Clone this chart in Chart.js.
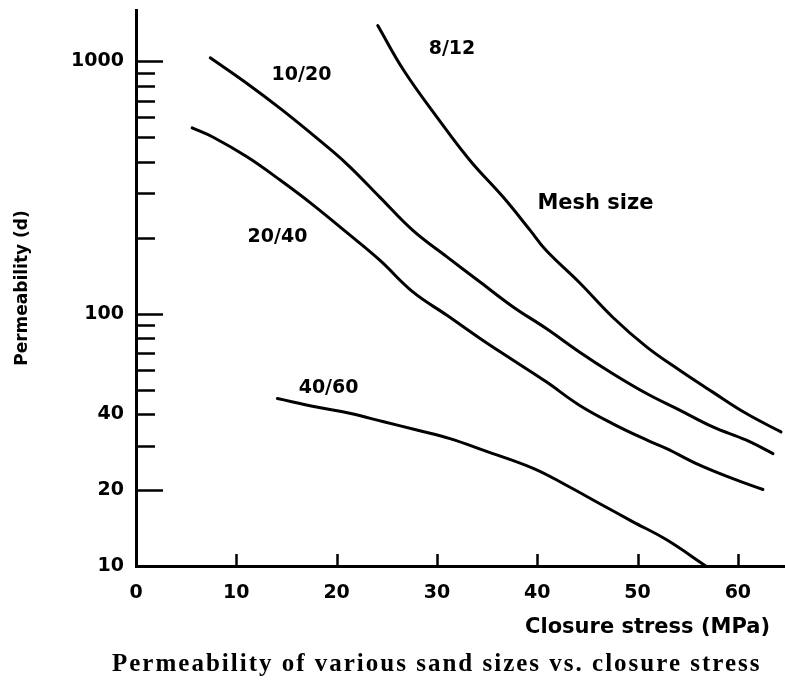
<!DOCTYPE html>
<html>
<head>
<meta charset="utf-8">
<script src="https://cdn.jsdelivr.net/npm/chart.js@4.4.1/dist/chart.umd.min.js"></script>
<style>
  html, body { margin: 0; padding: 0; background: #fff; }
  #wrap { position: relative; width: 785px; height: 680px; }
  #caption {
    position: absolute; left: 112px; top: 647px; height: 32px; line-height: 32px;
    font-family: "Liberation Serif", "Times New Roman", serif; font-weight: bold;
    font-size: 25px; letter-spacing: 2px; color: #000; white-space: nowrap;
  }
</style>
</head>
<body>
<div id="wrap">
  <canvas id="c" width="785" height="680"></canvas>
  <div id="caption">Permeability of various sand sizes vs. closure stress</div>
</div>
<script>
// ---- Data ----
const mesh812X = [24.1, 26.7, 30.0, 33.3, 36.6, 39.3, 40.9, 44.2, 47.5, 50.9, 54.2, 57.5, 60.8, 64.3];
const mesh812Y = [1389, 921, 602, 405, 290, 214, 178, 133, 97.1, 73.9, 59.7, 48.9, 40.3, 34.0];

const mesh1020X = [7.4, 11.1, 14.4, 17.7, 21.0, 24.3, 27.6, 31.0, 34.3, 37.6, 40.9, 44.2, 47.5, 50.9, 54.2, 57.5, 60.8, 63.5];
const mesh1020Y = [1034, 816, 650, 509, 393, 290, 214, 168, 133.6, 106.4, 87.4, 70.6, 58.0, 48.3, 41.5, 35.6, 31.6, 27.9];

const mesh2040X = [5.6, 7.7, 11.1, 14.4, 17.7, 21.0, 24.3, 27.6, 31.0, 34.3, 37.6, 40.9, 44.2, 47.5, 50.9, 52.9, 56.2, 59.5, 62.5];
const mesh2040Y = [546, 501, 418, 338, 269, 210, 163, 122, 98.6, 79.8, 65.4, 53.7, 43.4, 36.7, 31.6, 29.2, 25.1, 22.2, 20.1];

const mesh4060X = [14.1, 18.0, 21.3, 24.7, 28.0, 31.3, 34.6, 39.6, 42.9, 46.2, 49.5, 52.9, 56.8];
const mesh4060Y = [46.1, 42.7, 40.3, 37.3, 34.6, 32.0, 28.8, 24.4, 20.9, 17.7, 15.0, 12.7, 10];

const seriesNames = ['8/12', '10/20', '20/40', '40/60'];

// curve annotation labels (data coordinates)
const labelTexts = ['8/12', '10/20', 'Mesh size', '20/40', '40/60'];
const labelXs = [31.5, 16.5, 45.8, 14.1, 19.2];
const labelYs = [1116, 880, 274, 201, 50.9];

// axis ticks
const xTickValues = [0, 10, 20, 30, 40, 50, 60];
const yTickValues = [10, 20, 30, 40, 50, 60, 70, 80, 90, 100, 200, 300, 400, 500, 600, 700, 800, 900, 1000];
const yLabelValues = [10, 20, 40, 100, 1000];
const yMajorTicks = [20, 100, 1000];

const xTitle = 'Closure stress (MPa)';
const yTitle = 'Permeability (d)';

// ---- Build datasets ----
function pts(xs, ys) { return xs.map((x, i) => ({ x: x, y: ys[i] })); }
const allX = [mesh812X, mesh1020X, mesh2040X, mesh4060X];
const allY = [mesh812Y, mesh1020Y, mesh2040Y, mesh4060Y];
const datasets = seriesNames.map((n, i) => ({
  label: n,
  data: pts(allX[i], allY[i]),
  borderColor: '#000',
  borderWidth: 3,
  pointRadius: 0,
  fill: false,
  tension: 0.4,
  borderCapStyle: 'round'
}));

const tickFont = { family: '"DejaVu Sans", sans-serif', weight: 'bold', size: 19 };

const decorPlugin = {
  id: 'decor',
  afterDraw(chart) {
    const ctx = chart.ctx;
    const xs = chart.scales.x, ys = chart.scales.y;
    const area = chart.chartArea;
    ctx.save();
    ctx.strokeStyle = '#000';
    ctx.lineWidth = 2.5;
    ctx.lineCap = 'butt';
    yTickValues.forEach(v => {
      if (v === 10) return;
      const py = Math.round(ys.getPixelForValue(v)) + 0.5;
      const len = yMajorTicks.includes(v) ? 27 : 19;
      ctx.beginPath();
      ctx.moveTo(area.left, py);
      ctx.lineTo(area.left + len, py);
      ctx.stroke();
    });
    xTickValues.forEach(v => {
      if (v === 0) return;
      const px = Math.round(xs.getPixelForValue(v)) + 0.5;
      ctx.beginPath();
      ctx.moveTo(px, area.bottom);
      ctx.lineTo(px, area.bottom - 12);
      ctx.stroke();
    });
    ctx.fillStyle = '#000';
    ctx.textBaseline = 'middle';
    ctx.textAlign = 'center';
    labelTexts.forEach((t, i) => {
      ctx.font = (t === 'Mesh size' ? 'bold 21px' : 'bold 19px') + ' "DejaVu Sans", sans-serif';
      ctx.fillText(t, xs.getPixelForValue(labelXs[i]), ys.getPixelForValue(labelYs[i]));
    });
    ctx.font = 'bold 21px "DejaVu Sans", sans-serif';
    ctx.textAlign = 'right';
    ctx.fillText(xTitle, 770, 628);
    ctx.restore();
  }
};

new Chart(document.getElementById('c'), {
  type: 'line',
  data: { datasets: datasets },
  options: {
    responsive: false,
    animation: false,
    events: [],
    layout: { padding: { left: 0, right: 0, top: 10, bottom: 0 } },
    plugins: { legend: { display: false }, tooltip: { enabled: false }, title: { display: false } },
    scales: {
      x: {
        type: 'linear',
        min: 0,
        max: 64.7,
        afterFit(scale) { scale.height = 114; scale.paddingLeft = 0; scale.paddingRight = 0; },
        afterBuildTicks(scale) { scale.ticks = xTickValues.map(v => ({ value: v })); },
        grid: { display: false, drawTicks: false },
        border: { display: true, color: '#000', width: 3 },
        ticks: { color: '#000', font: tickFont, padding: 16, maxRotation: 0, autoSkip: false },
        title: { display: false }
      },
      y: {
        type: 'logarithmic',
        min: 10,
        max: 1600,
        afterFit(scale) { scale.width = 136; scale.paddingTop = 0; scale.paddingBottom = 0; },
        afterBuildTicks(scale) { scale.ticks = yTickValues.map(v => ({ value: v })); },
        grid: { display: false, drawTicks: false },
        border: { display: true, color: '#000', width: 3 },
        ticks: {
          color: '#000', font: tickFont, padding: 12, autoSkip: false,
          callback: (v) => yLabelValues.includes(v) ? String(v) : ''
        },
        title: {
          display: true, text: yTitle, color: '#000',
          font: { family: '"DejaVu Sans", sans-serif', weight: 'bold', size: 17 },
          padding: { top: 12, bottom: 0 }
        }
      }
    }
  },
  plugins: [decorPlugin]
});
</script>
</body>
</html>
